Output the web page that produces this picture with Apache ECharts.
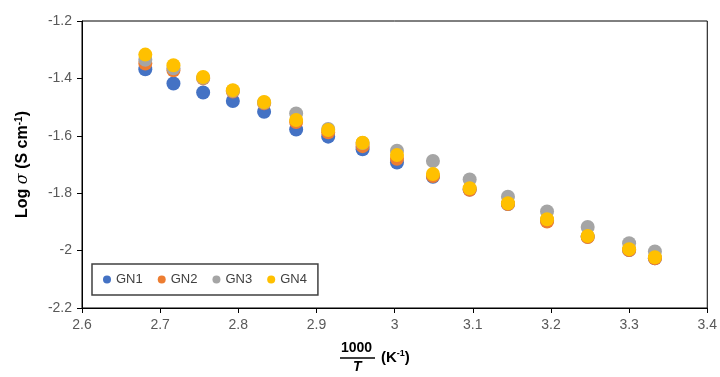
<!DOCTYPE html>
<html>
<head>
<meta charset="utf-8">
<script src="https://cdn.jsdelivr.net/npm/echarts@6/dist/echarts.min.js"></script>
<style>
  html, body { margin: 0; padding: 0; background: #fff; }
  #chart { width: 720px; height: 377px; }
</style>
</head>
<body>
<div id="chart"></div>
<script>
// 1000/T (K^-1)
const invTemp = [2.681, 2.717, 2.755, 2.793, 2.833, 2.874, 2.915, 2.959, 3.003, 3.049, 3.096, 3.145, 3.195, 3.247, 3.300, 3.333]

// Log sigma per sample
const gn1 = [-1.368, -1.418, -1.449, -1.479, -1.516, -1.578, -1.603, -1.647, -1.693, -1.743, -1.787, -1.838, -1.895, -1.952, -1.998, -2.027]
const gn2 = [-1.348, -1.372, -1.400, -1.446, -1.487, -1.552, -1.588, -1.636, -1.680, -1.740, -1.788, -1.838, -1.899, -1.953, -1.998, -2.027]
const gn3 = [-1.335, -1.365, -1.398, -1.443, -1.484, -1.522, -1.576, -1.625, -1.652, -1.688, -1.752, -1.812, -1.864, -1.918, -1.974, -2.003]
const gn4 = [-1.317, -1.354, -1.395, -1.441, -1.482, -1.545, -1.580, -1.624, -1.667, -1.733, -1.783, -1.835, -1.891, -1.949, -1.995, -2.023]

const seriesNames = ['GN1', 'GN2', 'GN3', 'GN4']
const seriesColors = ['#4472C4', '#ED7D31', '#A5A5A5', '#FFC000']

const FONT = '"Liberation Sans", Arial, sans-serif'

const chart = echarts.init(document.getElementById('chart'))

const makeSeries = (name, values, color) => ({
  name,
  type: 'scatter',
  symbol: 'circle',
  symbolSize: 14,
  itemStyle: { color, opacity: 1 },
  data: values.map((v, i) => [invTemp[i], v])
})

chart.setOption({
  animation: false,
  backgroundColor: '#fff',
  grid: {
    left: 82, right: 12, top: 21, bottom: 69,
    show: true, borderColor: '#000', borderWidth: 1
  },
  legend: {
    left: 92, top: 264,
    data: seriesNames,
    icon: 'circle',
    itemWidth: 8, itemHeight: 8, itemGap: 15,
    padding: [9, 11],
    borderColor: '#404040', borderWidth: 1.5,
    textStyle: { fontFamily: FONT, fontSize: 13, color: '#404040' }
  },
  xAxis: {
    type: 'value',
    min: 2.6, max: 3.4, interval: 0.1,
    splitLine: { show: false },
    axisLine: { show: true, lineStyle: { color: '#000', width: 1 } },
    axisTick: { show: true, length: 5, lineStyle: { color: '#000' } },
    axisLabel: { fontFamily: FONT, fontSize: 14, color: '#595959', margin: 10 }
  },
  yAxis: {
    type: 'value',
    min: -2.2, max: -1.2, interval: 0.2,
    splitLine: { show: false },
    axisLine: { show: true, lineStyle: { color: '#000', width: 1 } },
    axisTick: { show: true, length: 5, lineStyle: { color: '#000' } },
    axisLabel: { fontFamily: FONT, fontSize: 14, color: '#595959', margin: 10 },
    name: '{b|Log }{s|σ}{b| (S cm}{sup|-1}{b|)}',
    nameLocation: 'middle',
    nameGap: 50,
    nameTextStyle: {
      rich: {
        b: { fontFamily: FONT, fontSize: 16, fontWeight: 'bold', color: '#000' },
        s: { fontFamily: '"DejaVu Serif", serif', fontSize: 16, fontStyle: 'italic', color: '#000' },
        sup: { fontFamily: FONT, fontSize: 10, fontWeight: 'bold', color: '#000', padding: [0, 0, 8, 0] }
      }
    }
  },
  graphic: [
    {
      type: 'text', left: 341, top: 341,
      style: { text: '1000', font: 'bold 14px "Liberation Sans", Arial, sans-serif', fill: '#000' }
    },
    {
      type: 'line',
      shape: { x1: 340, y1: 358, x2: 375, y2: 358 },
      style: { stroke: '#000', lineWidth: 1.5 }
    },
    {
      type: 'text', left: 353, top: 360,
      style: { text: 'T', font: 'italic bold 14px "Liberation Sans", Arial, sans-serif', fill: '#000' }
    },
    {
      type: 'text', left: 381, top: 349,
      style: {
        text: '{b|(K}{sup|-1}{b|)}',
        rich: {
          b: { fontFamily: FONT, fontSize: 15, fontWeight: 'bold', fill: '#000', color: '#000' },
          sup: { fontFamily: FONT, fontSize: 9, fontWeight: 'bold', color: '#000', padding: [0, 0, 8, 0] }
        }
      }
    }
  ],
  series: seriesNames.map((n, i) => makeSeries(n, [gn1, gn2, gn3, gn4][i], seriesColors[i]))
})
</script>
</body>
</html>
